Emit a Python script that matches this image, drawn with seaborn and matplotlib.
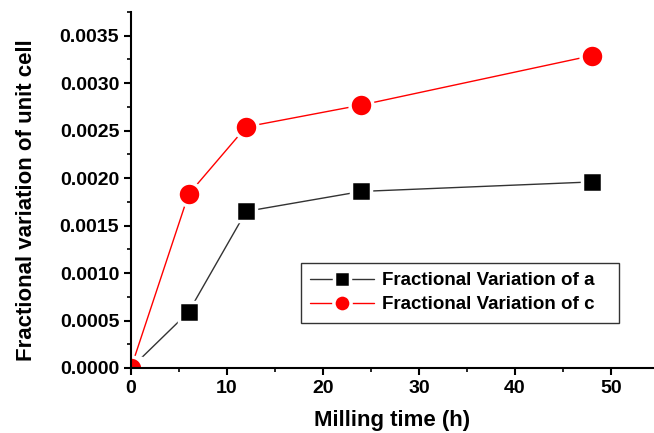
import matplotlib
matplotlib.use("Agg")
import matplotlib.pyplot as plt
import seaborn as sns
import pandas as pd
from matplotlib.ticker import MultipleLocator, FormatStrFormatter

# data
milling_time = [0, 6, 12, 24, 48]
frac_a = [0.0, 0.00059, 0.00165, 0.00186, 0.00196]
frac_c = [0.0, 0.00183, 0.00254, 0.00277, 0.00329]
label_a = 'Fractional Variation of a'
label_c = 'Fractional Variation of c'

sns.set_style("ticks")
plt.rcParams['font.family'] = ['Liberation Sans', 'DejaVu Sans']
plt.rcParams['font.weight'] = 'bold'
plt.rcParams['text.color'] = 'black'
plt.rcParams['axes.labelcolor'] = 'black'

df = pd.DataFrame({
    'time': milling_time * 2,
    'value': frac_a + frac_c,
    'series': [label_a] * len(frac_a) + [label_c] * len(frac_c),
})

fig = plt.figure(figsize=(6.54, 4.33), dpi=100)
ax = fig.add_axes([131 / 654, 1 - 368 / 433, 523 / 654, 356 / 433])

# white marker edge gives the little gap between line and symbol
sns.lineplot(data=df[df['series'] == label_a], x='time', y='value', ax=ax,
             color='#333333', lw=1, marker='s', markersize=15,
             markerfacecolor='black', markeredgecolor='white', markeredgewidth=2.5,
             label=label_a + '   ')
sns.lineplot(data=df[df['series'] == label_c], x='time', y='value', ax=ax,
             color='red', lw=1, marker='o', markersize=16.5,
             markerfacecolor='red', markeredgecolor='white', markeredgewidth=2.5,
             label=label_c + '   ')

ax.set_xlim(0, 54.5)
ax.set_ylim(0, 0.00375)
ax.xaxis.set_major_locator(MultipleLocator(10))
ax.xaxis.set_minor_locator(MultipleLocator(5))
ax.yaxis.set_major_locator(MultipleLocator(0.0005))
ax.yaxis.set_minor_locator(MultipleLocator(0.00025))
ax.yaxis.set_major_formatter(FormatStrFormatter('%.4f'))

sns.despine(ax=ax)
for s in ['left', 'bottom']:
    ax.spines[s].set_linewidth(1.5)
    ax.spines[s].set_color('black')
    ax.spines[s].set_zorder(5)
ax.tick_params(which='major', direction='out', length=5, width=1.5, labelsize=14, colors='black')
ax.tick_params(which='minor', direction='out', length=3, width=1.2, colors='black')

ax.set_xlabel('Milling time (h)', fontsize=16, fontweight='bold', labelpad=9.5)
ax.set_ylabel('Fractional variation of unit cell', fontsize=16, fontweight='bold')
ax.yaxis.set_label_coords(-0.179, 0.472)

leg = ax.legend(loc='upper left', bbox_to_anchor=(0.325, 0.295), borderaxespad=0,
                fontsize=13.5, frameon=True, fancybox=False, edgecolor='black',
                borderpad=0.5, handlelength=3.4, handletextpad=0.4,
                labelspacing=0.35, markerscale=0.75)
leg.get_frame().set_linewidth(1.0)
for t in leg.get_texts():
    t.set_fontweight('bold')

fig.savefig('out.png', dpi=100)
